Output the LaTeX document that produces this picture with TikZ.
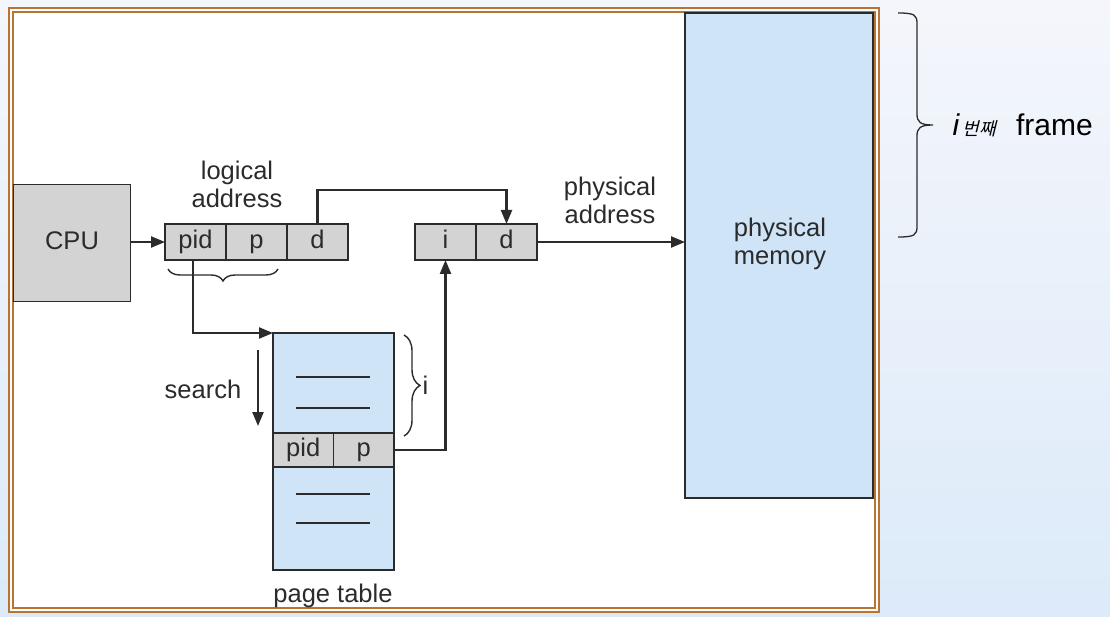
\documentclass[tikz,border=0pt]{standalone}
\usepackage{fontspec}
\setmainfont{Liberation Sans}
\newfontfamily\krfont[FakeSlant=0.25]{Noto Sans CJK KR}
\usetikzlibrary{arrows.meta,positioning,decorations.pathreplacing}

\definecolor{bgtop}{HTML}{F4F6FB}
\definecolor{bgbot}{HTML}{DCEAF9}
\definecolor{rim}{HTML}{B87430}
\definecolor{cellgray}{HTML}{D3D3D3}
\definecolor{memblue}{HTML}{CFE4F7}
\definecolor{ink}{HTML}{2B2B2B}

\tikzset{
  cell/.style={draw=ink, line width=1.6pt, fill=cellgray, minimum width=61pt,
    minimum height=36pt, inner sep=0pt, outer sep=0pt, text=ink,
    text height=18pt, text depth=5pt},
  bluebox/.style={draw=ink, line width=1.6pt, fill=memblue, inner sep=0pt, outer sep=0pt},
  arr/.style={draw=ink, line width=2.2pt, -{Triangle[length=14pt,width=11pt]}},
  lbl/.style={text=ink, align=center},
  curly/.style={draw=ink, line width=1.4pt, decorate, decoration={brace, amplitude=#1}},
}

\begin{document}
\begin{tikzpicture}[x=1pt, y=-1pt,
    every node/.style={font=\fontsize{25.5}{28}\selectfont}]
    % background and frame
    \shade[top color=bgtop, bottom color=bgbot] (0,0) rectangle (1110,617);
    \useasboundingbox (0,0) rectangle (1110,617);
    \fill[white] (10,9) rectangle (878,611);
    \draw[rim, line width=2.5pt] (9,8) rectangle (879,612);
    \draw[rim, line width=2.5pt] (13,12) rectangle (875,608);

    % cpu and logical address
    \node[cell, minimum width=117pt, minimum height=117pt] (cpu) at (72,243) {CPU};
    \node[cell] (lpid) at (195.5,242) {pid};
    \node[cell, right=0pt of lpid] (lp) {p};
    \node[cell, right=0pt of lp] (ld) {d};
    \node[lbl] (laddr) at (237,184) {logical\\address};

    % physical address
    \node[cell] (pi) at (445.5,242) {i};
    \node[cell, right=0pt of pi] (pd) {d};
    \node[lbl] (paddr) at (610,200) {physical\\address};

    % physical memory
    \node[bluebox, minimum width=188pt, minimum height=485pt] (mem) at (779,255.5) {};
    \node[lbl] (memtxt) at (780,244) {physical\\memory};

    % page table
    \node[bluebox, minimum width=121pt, minimum height=237pt] (ptab) at (333.5,451.5) {};
    \node[cell, minimum width=60.5pt, minimum height=34pt] (tpid) at (303.25,450) {pid};
    \node[cell, minimum width=60.5pt, minimum height=34pt, right=0pt of tpid] (tp) {p};
    \draw[ink, line width=1.6pt] (296,377) -- (370,377);
    \draw[ink, line width=1.6pt] (296,408) -- (370,408);
    \draw[ink, line width=1.6pt] (296,494) -- (370,494);
    \draw[ink, line width=1.6pt] (296,523) -- (370,523);
    \node[lbl] (ptxt) at (333,596) {page table};

    % search
    \node[lbl] (search) at (203,389) {search};
    \coordinate (s1) at (258,350);
    \coordinate (s2) at (258,426);
    \draw[arr] (s1) -- (s2);

    % connectors
    \draw[arr] (cpu.east |- lpid.west) -- (lpid.west);
    \draw[arr] (lpid.south -| 193,0) |- (ptab.north west);
    \draw[arr] (ld.north) -- ++(0,-34) -| (pd.north);
    \draw[arr] (tp.east) -| (pi.south);
    \draw[arr] (pd.east) -- (pd.east -| mem.west);

    % braces
    \draw[curly=12pt] (278,269) -- (168,269);
    \draw[curly=16pt] (404,335) -- (404,436);
    \node[lbl, anchor=west] (itxt) at (419,385) {i};
    \draw[ink, line width=1.3pt] (898,13) .. controls (915,13) and (917,15) .. (917,24)
        -- (917,114) .. controls (917,122) and (920,125) .. (933,125)
        .. controls (920,125) and (917,128) .. (917,136)
        -- (917,226) .. controls (917,235) and (915,237) .. (898,237);
    \node[anchor=west, text=black, font=\fontsize{30}{30}\selectfont] (frm) at (949,125)
        {\textit{i}\hspace{3pt}{\krfont\fontsize{18}{18}\selectfont 번째}\hspace{20pt}frame};
\end{tikzpicture}
\end{document}
